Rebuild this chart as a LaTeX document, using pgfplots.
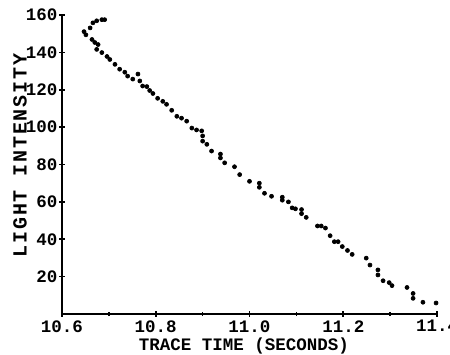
\documentclass[border=0pt]{standalone}
\usepackage{fontspec}
\setmainfont{Liberation Mono}
\usepackage{pgfplots}
\pgfplotsset{compat=1.18}
\begin{document}
\begin{tikzpicture}
\begin{axis}[
  scale only axis,
  width=225pt, height=179.4pt,
  xmin=10.6, xmax=11.4, ymin=0, ymax=160,
  axis x line*=bottom, axis y line*=left,
  axis line style={-, line width=1.3pt, black},
  xtick={10.6,10.8,11.0,11.2,11.4},
  xticklabels={10.6,10.8,11.0,11.2,11.4},
  minor xtick={10.7,10.9,11.1,11.3},
  ytick={20,40,60,80,100,120,140,160},
  tick align=center,
  major tick length=3.5pt, minor tick length=2.5pt,
  tick style={line width=1pt, black},
  /pgf/number format/assume math mode=true,
  ticklabel style={font=\fontsize{10.5}{12}\selectfont\bfseries},
  yticklabel style={xshift=2.5pt},
  xticklabel style={yshift=1.5pt},
  xlabel={TRACE TIME (SECONDS)},
  ylabel={LIGHT INTENSITY},
  x label style={font=\fontsize{10.5}{12}\selectfont\bfseries, at={(axis description cs:0.485,-0.108)}, anchor=center},
  y label style={font=\fontsize{12}{14}\selectfont\bfseries\addfontfeature{LetterSpace=9}, at={(axis description cs:-0.112,0.53)}, anchor=center},
  clip=false,
]
\addplot[only marks, mark=*, mark size=1.2pt, black] coordinates {
(10.647,151.1) (10.651,149.4) (10.660,153.1) (10.666,155.8) (10.674,156.9)
(10.685,157.5) (10.691,157.5) (10.664,146.9) (10.670,145.3) (10.677,144.2)
(10.674,141.6) (10.685,139.9) (10.696,137.8) (10.702,136.2) (10.713,133.6)
(10.723,131.0) (10.734,129.4) (10.740,127.3) (10.751,125.7) (10.762,128.4)
(10.766,124.7) (10.772,122.0) (10.781,121.7) (10.787,119.6) (10.794,118.0)
(10.804,115.4) (10.815,113.8) (10.823,112.2) (10.834,109.0) (10.845,105.8)
(10.855,104.8) (10.866,103.2) (10.877,99.5) (10.887,98.5) (10.898,98.0)
(10.900,95.3) (10.900,92.5) (10.909,90.8) (10.919,87.2) (10.938,85.6)
(10.938,83.5) (10.947,80.9) (10.968,78.8) (10.979,74.6) (11.000,71.0)
(11.021,70.0) (11.021,67.8) (11.032,64.6) (11.047,63.0) (11.070,62.5)
(11.070,60.9) (11.083,60.0) (11.091,56.8) (11.098,56.3) (11.111,55.9)
(11.111,53.7) (11.121,51.7) (11.145,47.1) (11.153,47.1) (11.162,46.0)
(11.172,41.9) (11.181,38.7) (11.189,38.7) (11.198,36.1) (11.209,34.0)
(11.219,31.9) (11.249,29.9) (11.257,26.2) (11.274,23.6) (11.274,20.9)
(11.285,17.8) (11.298,16.8) (11.304,15.2) (11.336,14.2) (11.349,11.0)
(11.349,8.4) (11.370,6.3) (11.398,5.9)
};
\coordinate (O) at (rel axis cs:0,0);
\coordinate (T) at (rel axis cs:1,1);
\end{axis}
\pgfresetboundingbox
\path ([shift={(-37.2pt,-24pt)}]O) rectangle ([shift={(7.8pt,9pt)}]T);
\end{tikzpicture}
\end{document}
